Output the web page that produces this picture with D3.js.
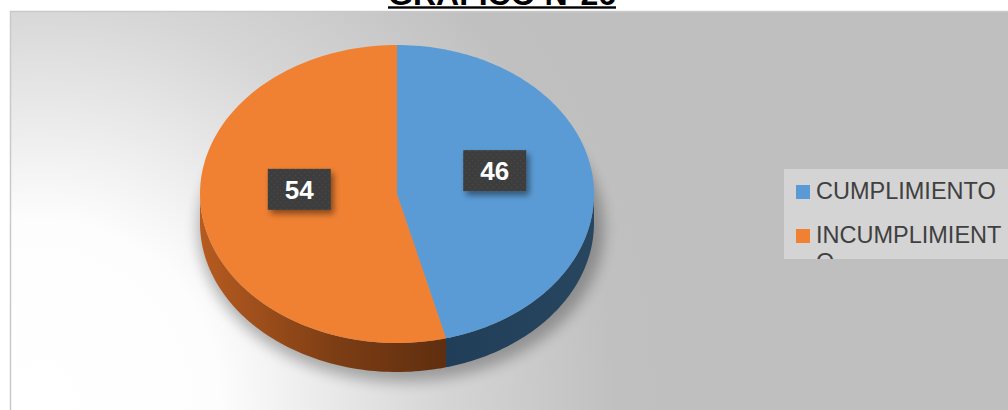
<!DOCTYPE html>
<html>
<head>
<meta charset="utf-8">
<script src="https://cdn.jsdelivr.net/npm/d3@7"></script>
<style>
  html, body { margin: 0; padding: 0; background: #ffffff; }
  svg { display: block; }
</style>
</head>
<body>
<svg id="chart" width="1008" height="410"></svg>
<script>
// Chart data
const categories = ["CUMPLIMIENTO", "INCUMPLIMIENTO"];
const values = [46, 54];
const topColors = ["#5b9bd5", "#f08133"];
const title = "GRÁFICO N°26";

const W = 1008, H = 410;
const svg = d3.select("#chart");
const defs = svg.append("defs");

// Background gradient of the plot frame
const bg = defs.append("radialGradient").attr("id", "bgGrad")
  .attr("gradientUnits", "userSpaceOnUse")
  .attr("cx", 40).attr("cy", 400).attr("r", 640);
bg.append("stop").attr("offset", 0).attr("stop-color", "#ffffff");
bg.append("stop").attr("offset", 0.28).attr("stop-color", "#fdfdfd");
bg.append("stop").attr("offset", 0.62).attr("stop-color", "#d6d6d6");
bg.append("stop").attr("offset", 0.9).attr("stop-color", "#c0c0c0");
bg.append("stop").attr("offset", 1).attr("stop-color", "#bfbfbf");

svg.append("rect").attr("x", 10.5).attr("y", 11.5)
  .attr("width", W).attr("height", H)
  .attr("fill", "url(#bgGrad)")
  .attr("stroke", "#c9c9c9").attr("stroke-width", 1.5);

// Title (underlined), partly above the top edge
const titleText = svg.append("text")
  .attr("x", 502).attr("y", 5)
  .attr("text-anchor", "middle")
  .attr("font-family", "Liberation Sans, Arial, sans-serif")
  .attr("font-weight", "bold").attr("font-size", 32)
  .attr("fill", "#000")
  .text(title);
const tb = titleText.node().getBBox();
svg.append("rect").attr("x", tb.x).attr("y", 6.3)
  .attr("width", tb.width).attr("height", 2.4).attr("fill", "#000");

// 3D pie geometry
const cx = 397, cy = 194, rx = 197, ry = 149, depth = 29;
const pie = d3.pie().sort(null).value(d => d)(values);
const pt = (a, r = 1, dy = 0) => [cx + rx * r * Math.sin(a), cy - ry * r * Math.cos(a) + dy];

// Soft shadow beneath the pie
const sh = defs.append("filter").attr("id", "pieShadow")
  .attr("x", "-20%").attr("y", "-20%").attr("width", "140%").attr("height", "140%");
sh.append("feGaussianBlur").attr("stdDeviation", 7);
svg.append("ellipse")
  .attr("cx", cx + 4).attr("cy", cy + depth + 6)
  .attr("rx", rx + 6).attr("ry", ry + 4)
  .attr("fill", "#000").attr("opacity", 0.28)
  .attr("filter", "url(#pieShadow)");

// Side wall gradients (one per slice, same order as the data)
const sideDefs = [
  { x1: 450, x2: 594, stops: [["0", "#213e58"], ["1", "#28465f"]] },
  { x1: 200, x2: 450, stops: [["0", "#b65b20"], ["0.55", "#7c3d14"], ["1", "#5e2e0f"]] }
];
sideDefs.forEach((sd, i) => {
  const g = defs.append("linearGradient").attr("id", "side" + i)
    .attr("gradientUnits", "userSpaceOnUse")
    .attr("x1", sd.x1).attr("y1", 0).attr("x2", sd.x2).attr("y2", 0);
  sd.stops.forEach(s => g.append("stop").attr("offset", s[0]).attr("stop-color", s[1]));
});

const line = d3.line();
pie.forEach((d, i) => {
  const s = Math.max(d.startAngle, Math.PI / 2);
  const e = Math.min(d.endAngle, 3 * Math.PI / 2);
  if (e <= s) return;
  const n = 80;
  const topPts = d3.range(n + 1).map(k => pt(s + (e - s) * k / n));
  const botPts = topPts.map(p => [p[0], p[1] + depth]).reverse();
  svg.append("path")
    .attr("d", line(topPts.concat(botPts)) + "Z")
    .attr("fill", `url(#side${i})`);
});

// Top faces
pie.forEach((d, i) => {
  const n = 120;
  const pts = [[cx, cy]].concat(
    d3.range(n + 1).map(k => pt(d.startAngle + (d.endAngle - d.startAngle) * k / n)));
  svg.append("path")
    .attr("d", line(pts) + "Z")
    .attr("fill", topColors[i]);
});

// Data labels: dark boxes with drop shadow
const ds = defs.append("filter").attr("id", "lblShadow")
  .attr("x", "-30%").attr("y", "-30%").attr("width", "170%").attr("height", "170%");
ds.append("feDropShadow").attr("dx", 3).attr("dy", 4).attr("stdDeviation", 3)
  .attr("flood-color", "#000").attr("flood-opacity", 0.45);

const pat = defs.append("pattern").attr("id", "lblTex")
  .attr("patternUnits", "userSpaceOnUse").attr("width", 6).attr("height", 6);
pat.append("rect").attr("width", 6).attr("height", 6).attr("fill", "#3d3d3d");
pat.append("circle").attr("cx", 1.5).attr("cy", 1.5).attr("r", 1).attr("fill", "#474747");
pat.append("circle").attr("cx", 4.5).attr("cy", 4.5).attr("r", 1).attr("fill", "#444444");

pie.forEach((d, i) => {
  const mid = (d.startAngle + d.endAngle) / 2;
  const [lx, ly] = pt(mid, 0.5, -14);
  const bw = 63, bh = 41;
  const g = svg.append("g");
  g.append("rect")
    .attr("x", lx - bw / 2).attr("y", ly - bh / 2)
    .attr("width", bw).attr("height", bh)
    .attr("fill", "url(#lblTex)")
    .attr("filter", "url(#lblShadow)");
  g.append("text")
    .attr("x", lx).attr("y", ly + 9.5)
    .attr("text-anchor", "middle")
    .attr("font-family", "Liberation Sans, Arial, sans-serif")
    .attr("font-weight", "bold").attr("font-size", 26)
    .attr("fill", "#ffffff")
    .text(d.data);
});

// Legend
const lgX = 784, lgY = 169, lgW = 224, lgH = 90;
defs.append("clipPath").attr("id", "lgClip")
  .append("rect").attr("x", lgX).attr("y", lgY).attr("width", lgW).attr("height", lgH);
svg.append("rect").attr("x", lgX).attr("y", lgY)
  .attr("width", lgW).attr("height", lgH).attr("fill", "#d4d4d4");
const lg = svg.append("g").attr("clip-path", "url(#lgClip)");
const legendLines = [["CUMPLIMIENTO"], ["INCUMPLIMIENT", "O"]];
const rowY = [199, 243];
categories.forEach((c, i) => {
  lg.append("rect").attr("x", 796).attr("y", rowY[i] - 14)
    .attr("width", 14).attr("height", 14).attr("fill", topColors[i]);
  const t = lg.append("text")
    .attr("x", 816).attr("y", rowY[i])
    .attr("font-family", "Liberation Sans, Arial, sans-serif")
    .attr("font-size", 23.5).attr("fill", "#404040");
  legendLines[i].forEach((ln, k) => {
    t.append("tspan").attr("x", 816).attr("dy", k === 0 ? 0 : 27).text(ln);
  });
});
</script>
</body>
</html>
